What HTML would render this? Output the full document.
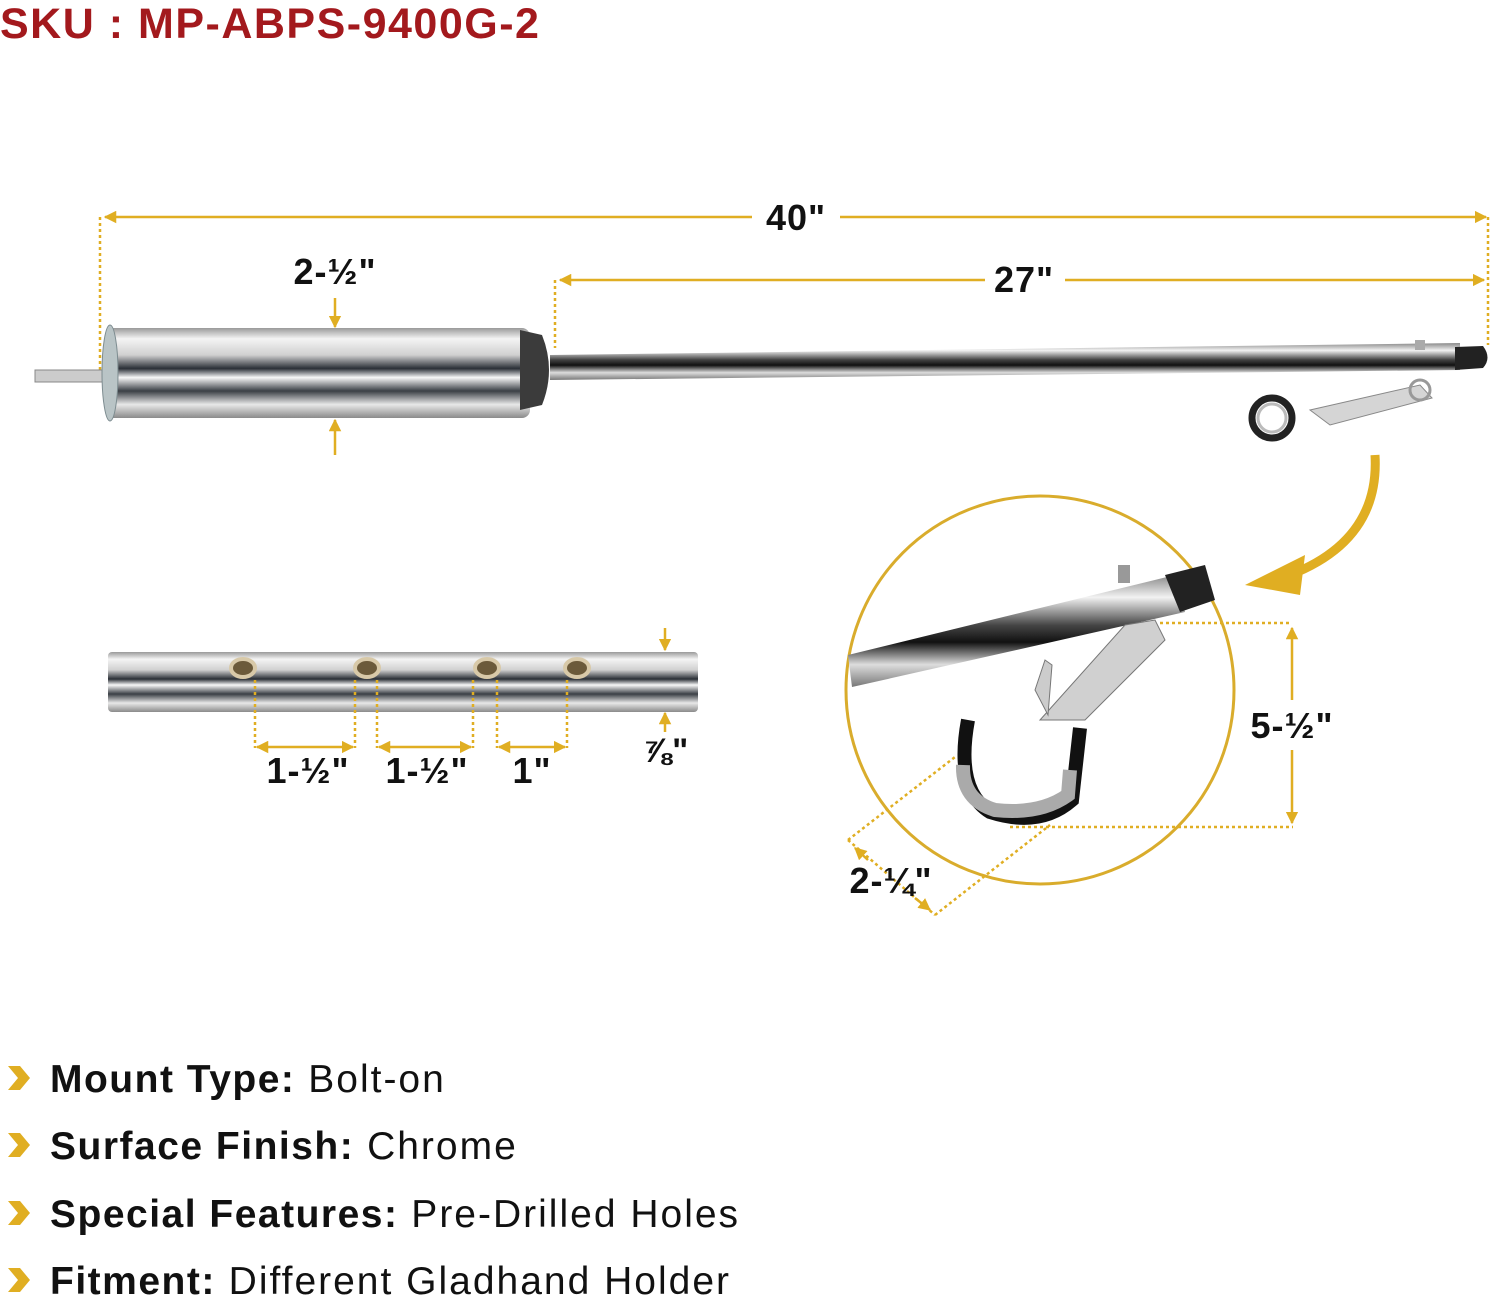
<!DOCTYPE html>
<html><head><meta charset="utf-8"><style>
html,body{margin:0;padding:0;background:#fff;}
svg{display:block;font-family:"Liberation Sans",sans-serif;}
</style></head><body>
<svg width="1500" height="1298" viewBox="0 0 1500 1298" xmlns="http://www.w3.org/2000/svg">
<defs>
<linearGradient id="chrome" x1="0" y1="0" x2="0" y2="1">
<stop offset="0" stop-color="#9a9a9a"/><stop offset="0.12" stop-color="#f4f4f4"/><stop offset="0.3" stop-color="#d0d0d0"/>
<stop offset="0.45" stop-color="#2a2f36"/><stop offset="0.55" stop-color="#f8f8f8"/><stop offset="0.7" stop-color="#3a3f45"/>
<stop offset="0.85" stop-color="#e8e8e8"/><stop offset="1" stop-color="#8a8a8a"/></linearGradient>
<linearGradient id="rod" x1="0" y1="0" x2="0" y2="1">
<stop offset="0" stop-color="#888"/><stop offset="0.2" stop-color="#f2f2f2"/><stop offset="0.45" stop-color="#444"/>
<stop offset="0.6" stop-color="#111"/><stop offset="0.8" stop-color="#ddd"/><stop offset="1" stop-color="#777"/></linearGradient>
<marker id="ah" viewBox="0 0 10 10" refX="9" refY="5" markerWidth="5" markerHeight="5" orient="auto-start-reverse"><path d="M0,0L10,5L0,10z" fill="#e0ae22"/></marker>
</defs>
<g fill="#a3191d" font-weight="bold" font-size="43"><text x="0" y="38" letter-spacing="1.5">SKU : MP-ABPS-9400G-2</text></g>

<g stroke="#e0ae22" stroke-width="2.5" fill="none">
<line x1="105" y1="217" x2="752" y2="217" marker-start="url(#ah)"/>
<line x1="840" y1="217" x2="1486" y2="217" marker-end="url(#ah)"/>
<line x1="560" y1="280" x2="985" y2="280" marker-start="url(#ah)"/>
<line x1="1065" y1="280" x2="1484" y2="280" marker-end="url(#ah)"/>
<line x1="100" y1="217" x2="100" y2="370" stroke-dasharray="3,3"/>
<line x1="1488" y1="217" x2="1488" y2="345" stroke-dasharray="3,3"/>
<line x1="555" y1="280" x2="555" y2="348" stroke-dasharray="3,3"/>
<line x1="335" y1="298" x2="335" y2="327" marker-end="url(#ah)"/>
<line x1="335" y1="455" x2="335" y2="420" marker-end="url(#ah)"/>
</g>
<g font-size="36" font-weight="bold" fill="#111" text-anchor="middle" letter-spacing="1">
<text x="796" y="230">40"</text>
<text x="1024" y="292">27"</text>
<text x="335" y="284">2-½"</text>
</g>

<rect x="35" y="370" width="75" height="12" fill="#ccc" stroke="#888"/>
<polygon points="550,355 1460,343 1460,370 550,380" fill="url(#rod)"/>
<rect x="105" y="328" width="425" height="90" rx="8" fill="url(#chrome)"/>
<ellipse cx="110" cy="373" rx="8" ry="48" fill="#b9c4c6" stroke="#7d8c90"/>
<path d="M520,330 L542,335 Q556,370 542,405 L520,410z" fill="#3b3b3b"/>
<path d="M1455,347 L1483,346 Q1492,358 1483,368 L1455,370z" fill="#222"/>
<rect x="1415" y="340" width="10" height="10" fill="#aaa"/>
<circle cx="1272" cy="418" r="20" fill="none" stroke="#222" stroke-width="7"/>
<circle cx="1272" cy="418" r="14" fill="none" stroke="#bbb" stroke-width="3"/>
<path d="M1310,410 L1420,385 L1432,398 L1330,425z" fill="#d5d5d5" stroke="#888"/>
<circle cx="1420" cy="390" r="10" fill="none" stroke="#999" stroke-width="3"/>
<path d="M1375,455 Q1380,540 1290,575" stroke="#e0ae22" stroke-width="9" fill="none"/>
<polygon points="1245,585 1305,555 1300,595" fill="#e0ae22"/>

<circle cx="1040" cy="690" r="194" fill="#fff" stroke="#d9ac2c" stroke-width="3"/>
<polygon points="848,655 1175,575 1185,612 852,687" fill="url(#rod)"/>
<path d="M1165,575 L1205,565 L1215,600 L1180,612z" fill="#222"/>
<rect x="1118" y="565" width="12" height="18" fill="#999"/>
<path d="M1040,720 L1125,625 L1155,620 L1165,640 L1085,720z" fill="#d0d0d0" stroke="#777"/>
<path d="M1035,690 L1045,660 L1052,665 L1048,715z" fill="#ccc" stroke="#777"/>
<path d="M968,720 Q955,790 990,812 Q1040,828 1072,800 L1080,728" fill="none" stroke="#111" stroke-width="14"/>
<path d="M963,765 Q962,800 995,810 Q1040,815 1068,795 L1070,770" fill="none" stroke="#aaa" stroke-width="14"/>
<g stroke="#e0ae22" stroke-width="2.5" fill="none">
<line x1="1160" y1="623" x2="1292" y2="623" stroke-dasharray="3,3"/>
<line x1="1010" y1="827" x2="1293" y2="827" stroke-dasharray="3,3"/>
<line x1="1292" y1="700" x2="1292" y2="628" marker-end="url(#ah)"/>
<line x1="1292" y1="750" x2="1292" y2="823" marker-end="url(#ah)"/>
<line x1="848" y1="840" x2="955" y2="757" stroke-dasharray="3,3"/>
<line x1="935" y1="915" x2="1050" y2="825" stroke-dasharray="3,3"/>
<line x1="848" y1="840" x2="935" y2="915" stroke-dasharray="3,3"/>
<line x1="868" y1="860" x2="855" y2="848" marker-end="url(#ah)"/>
<line x1="915" y1="898" x2="930" y2="910" marker-end="url(#ah)"/>
</g>
<g font-size="36" font-weight="bold" fill="#111" text-anchor="middle" letter-spacing="1">
<text x="1292" y="738">5-½"</text>
<text x="891" y="893">2-¼"</text>
</g>

<rect x="108" y="652" width="590" height="60" rx="4" fill="url(#chrome)"/>
<g fill="#6b5a3a" stroke="#d8c9a8" stroke-width="4">
<ellipse cx="243" cy="668" rx="12" ry="9"/><ellipse cx="367" cy="668" rx="12" ry="9"/>
<ellipse cx="487" cy="668" rx="12" ry="9"/><ellipse cx="577" cy="668" rx="12" ry="9"/>
</g>
<g stroke="#e0ae22" stroke-width="2.5" fill="none">
<g stroke-dasharray="3,3">
<line x1="255" y1="680" x2="255" y2="748"/><line x1="355" y1="680" x2="355" y2="748"/>
<line x1="377" y1="680" x2="377" y2="748"/><line x1="473" y1="680" x2="473" y2="748"/>
<line x1="497" y1="680" x2="497" y2="748"/><line x1="567" y1="680" x2="567" y2="748"/>
</g>
<line x1="257" y1="747" x2="353" y2="747" marker-start="url(#ah)" marker-end="url(#ah)"/>
<line x1="379" y1="747" x2="471" y2="747" marker-start="url(#ah)" marker-end="url(#ah)"/>
<line x1="499" y1="747" x2="565" y2="747" marker-start="url(#ah)" marker-end="url(#ah)"/>
<line x1="665" y1="628" x2="665" y2="650" marker-end="url(#ah)"/>
<line x1="665" y1="732" x2="665" y2="713" marker-end="url(#ah)"/>
</g>
<g font-size="36" font-weight="bold" fill="#111" text-anchor="middle" letter-spacing="1">
<text x="308" y="783">1-½"</text><text x="427" y="783">1-½"</text><text x="532" y="783">1"</text>
<text x="666" y="762" font-size="34">⅞"</text>
</g>

<g fill="#e0ae22">
<path d="M8,1066 L20,1066 L30,1078 L20,1090 L8,1090 L18,1078z"/>
<path d="M8,1133 L20,1133 L30,1145 L20,1157 L8,1157 L18,1145z"/>
<path d="M8,1201 L20,1201 L30,1213 L20,1225 L8,1225 L18,1213z"/>
<path d="M8,1268 L20,1268 L30,1280 L20,1292 L8,1292 L18,1280z"/>
</g>
<g font-size="39" fill="#111" letter-spacing="2">
<text x="50" y="1092"><tspan font-weight="bold" letter-spacing="1.5">Mount Type:</tspan> Bolt-on</text>
<text x="50" y="1159"><tspan font-weight="bold" letter-spacing="1.5">Surface Finish:</tspan> Chrome</text>
<text x="50" y="1227"><tspan font-weight="bold" letter-spacing="1.5">Special Features:</tspan> Pre-Drilled Holes</text>
<text x="50" y="1294"><tspan font-weight="bold" letter-spacing="1.5">Fitment:</tspan> Different Gladhand Holder</text>
</g>
</svg>
</body></html>
